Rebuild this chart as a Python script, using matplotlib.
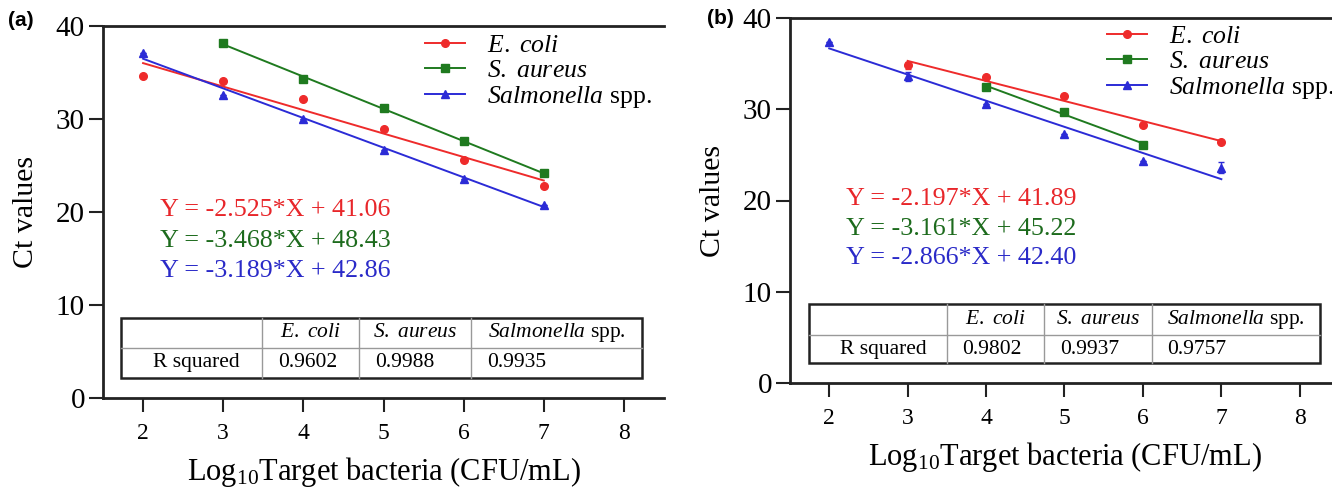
import numpy as np
import matplotlib
matplotlib.use("Agg")
import matplotlib.pyplot as plt
from matplotlib.lines import Line2D
from matplotlib.patches import Rectangle

plt.rcParams["font.family"] = ["Liberation Serif", "DejaVu Serif"]
plt.rcParams["mathtext.fontset"] = "custom"
plt.rcParams["mathtext.rm"] = "Liberation Serif"
plt.rcParams["mathtext.it"] = "Liberation Serif:italic"

LABELS = [r"$\mathit{E.\ coli}$", r"$\mathit{S.\ aureus}$", r"$\mathit{Salmonella}$ spp."]
COLORS = ["#ee2b2b", "#1f7a1f", "#2b2bd6"]
EQ_COLORS = ["#e8262a", "#1d6b1d", "#2a2ac8"]
MARKERS = ["o", "s", "^"]
X_TICKS = [2, 3, 4, 5, 6, 7, 8]
Y_TICKS = [0, 10, 20, 30, 40]

# panel (a)
A_X = [[2, 3, 4, 5, 6, 7], [3, 4, 5, 6, 7], [2, 3, 4, 5, 6, 7]]
A_Y = [[34.6, 34.1, 32.2, 28.9, 25.6, 22.8],
       [38.2, 34.3, 31.2, 27.6, 24.2],
       [37.1, 32.6, 30.0, 26.7, 23.6, 20.8]]
A_ERR = [[0, 0, 0, 0, 0, 0], [0, 0, 0, 0, 0], [0, 0, 0, 0, 0, 0]]
A_SLOPE = [-2.525, -3.468, -3.189]
A_INTER = [41.06, 48.43, 42.86]
A_R2 = ["0.9602", "0.9988", "0.9935"]

# panel (b)
B_X = [[3, 4, 5, 6, 7], [4, 5, 6], [2, 3, 4, 5, 6, 7]]
B_Y = [[34.8, 33.5, 31.4, 28.3, 26.4],
       [32.4, 29.7, 26.1],
       [37.4, 33.6, 30.6, 27.3, 24.3, 23.6]]
B_ERR = [[0.4, 0, 0, 0, 0], [0, 0, 0], [0, 0.5, 0, 0, 0, 0.6]]
B_SLOPE = [-2.197, -3.161, -2.866]
B_INTER = [41.89, 45.22, 42.40]
B_R2 = ["0.9802", "0.9937", "0.9757"]

TABLE_HEAD = ["", r"$\mathit{E.\ coli}$", r"$\mathit{S.\ aureus}$", r"$\mathit{Salmonella}$ spp."]


def draw_panel(ax, xs, ys, errs, slopes, inters, r2, cols, rows, leg_anchor):
    for i in range(3):
        x = np.array(xs[i], dtype=float)
        xl = np.array([x.min(), x.max()])
        ax.plot(xl, slopes[i] * xl + inters[i], color=COLORS[i], lw=1.4, zorder=2)
        ax.errorbar(x, ys[i], yerr=errs[i], fmt=MARKERS[i], color=COLORS[i],
                    ms=5.5, capsize=2.5, elinewidth=1, zorder=3)

    for i in range(3):
        ax.text(2.21, [20.2, 16.9, 13.7][i],
                f"Y = {slopes[i]:.3f}*X + {inters[i]:.2f}",
                color=EQ_COLORS[i], fontsize=18.7, va="center", ha="left")

    handles = [Line2D([], [], color=COLORS[i], marker=MARKERS[i], ms=5.5, lw=1.4)
               for i in range(3)]
    ax.legend(handles, LABELS, loc="upper left", bbox_to_anchor=leg_anchor,
              frameon=False, fontsize=18.5, handlelength=1.55, handletextpad=0.85,
              labelspacing=0.08, borderpad=0, borderaxespad=0, numpoints=1)

    # R squared table
    x0, x3 = cols[0], cols[-1]
    y_top, y_mid, y_bot = rows
    ax.add_patch(Rectangle((x0, y_bot), x3 - x0, y_top - y_bot, fill=False,
                           ec="#222222", lw=1.8, zorder=4))
    ax.plot([x0, x3], [y_mid, y_mid], color="#999999", lw=1, zorder=4)
    for c in cols[1:-1]:
        ax.plot([c, c], [y_bot, y_top], color="#999999", lw=1, zorder=4)
    for j in range(1, 4):
        ax.text((cols[j] + cols[j + 1]) / 2, (y_top + y_mid) / 2, TABLE_HEAD[j],
                ha="center", va="center", fontsize=15.5)
        ax.text(cols[j] + 0.2, (y_mid + y_bot) / 2, r2[j - 1],
                ha="left", va="center", fontsize=15.5)
    ax.text(cols[0] + 0.4, (y_mid + y_bot) / 2, "R squared",
            ha="left", va="center", fontsize=15.5)

    ax.set_xlim(1.5, 8.5)
    ax.set_ylim(0, 40)
    ax.set_xticks(X_TICKS)
    ax.set_yticks(Y_TICKS)
    ax.tick_params(axis="x", labelsize=17, length=10, width=1.5, pad=8, color="#222222")
    ax.tick_params(axis="y", labelsize=21, length=10, width=1.5, pad=3, color="#222222")
    for s in ["left", "bottom", "top"]:
        ax.spines[s].set_linewidth(2)
        ax.spines[s].set_color("#222222")
    ax.spines["right"].set_visible(False)
    ax.set_ylabel("Ct values", fontsize=21.5, labelpad=12)
    ax.set_xlabel(r"Log$_{10}$Target bacteria (CFU/mL)", fontsize=22, labelpad=8)


fig = plt.figure(figsize=(13.32, 4.87), dpi=100)
W, H = 1332, 487
ax_a = fig.add_axes([103 / W, (H - 398) / H, 561 / W, 372 / H])
ax_b = fig.add_axes([790 / W, (H - 383) / H, 549 / W, 365 / H])

draw_panel(ax_a, A_X, A_Y, A_ERR, A_SLOPE, A_INTER, A_R2,
           [1.72, 3.48, 4.70, 6.09, 8.23], (8.6, 5.4, 2.15), (0.574, 0.978))
draw_panel(ax_b, B_X, B_Y, B_ERR, B_SLOPE, B_INTER, B_R2,
           [1.74, 3.50, 4.74, 6.11, 8.26], (8.66, 5.26, 2.19), (0.578, 0.981))

fig.text(8 / W, 1 - 20 / H, "(a)", fontsize=15, fontweight="bold",
         family="Liberation Sans", va="center", ha="left")
fig.text(707 / W, 1 - 18 / H, "(b)", fontsize=15, fontweight="bold",
         family="Liberation Sans", va="center", ha="left")

fig.savefig("out.png", dpi=100)
